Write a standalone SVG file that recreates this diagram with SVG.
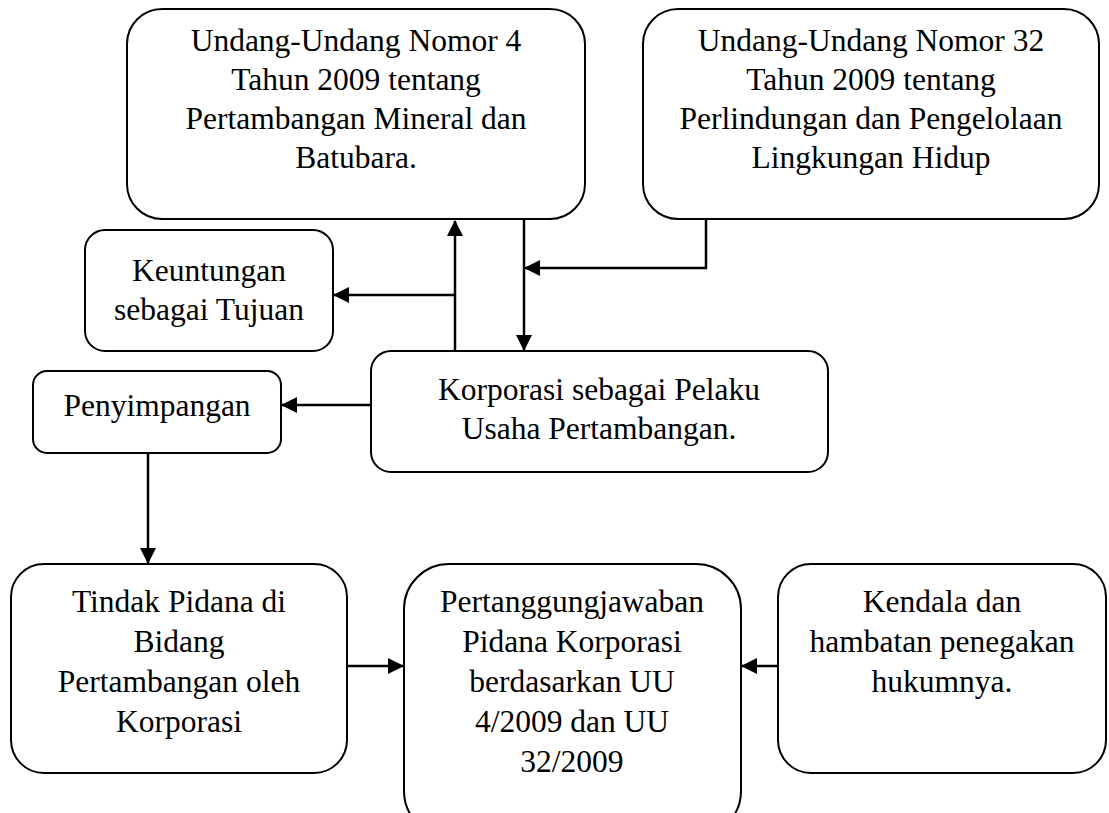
<svg xmlns="http://www.w3.org/2000/svg" width="1109" height="813" viewBox="0 0 1109 813">
<style>
.box{fill:#fff;stroke:#000;stroke-width:2}
.t{font-family:"Liberation Serif","Times New Roman",serif;font-size:31.5px;fill:#000;text-anchor:middle}
.c{fill:none;stroke:#000;stroke-width:2.5}
</style>
<defs>
<marker id="ah" markerUnits="userSpaceOnUse" markerWidth="16" markerHeight="16" viewBox="0 0 16 16" refX="15" refY="8" orient="auto">
<path d="M0,0 L16,8 L0,16 Z" fill="#000"/>
</marker>
</defs>
<rect width="1109" height="813" fill="#fff"/>
<g id="connectors">
<path class="c" d="M455,351 V221" marker-end="url(#ah)"/>
<path class="c" d="M455,295 H334" marker-end="url(#ah)"/>
<path class="c" d="M524,220 V350" marker-end="url(#ah)"/>
<path class="c" d="M706,219 V268 H525" marker-end="url(#ah)"/>
<path class="c" d="M371,405 H282" marker-end="url(#ah)"/>
<path class="c" d="M148,453 V563" marker-end="url(#ah)"/>
<path class="c" d="M347,666 H403" marker-end="url(#ah)"/>
<path class="c" d="M778,666 H742" marker-end="url(#ah)"/>
</g>
<g id="uu4">
<rect class="box" x="127" y="9" width="458" height="210" rx="35"/>
<text class="t" x="356" y="51">Undang-Undang Nomor 4</text>
<text class="t" x="356" y="90">Tahun 2009 tentang</text>
<text class="t" x="356" y="129">Pertambangan Mineral dan</text>
<text class="t" x="356" y="168">Batubara.</text>
</g>
<g id="uu32">
<rect class="box" x="643" y="9" width="456" height="210" rx="35"/>
<text class="t" x="871" y="51">Undang-Undang Nomor 32</text>
<text class="t" x="871" y="90">Tahun 2009 tentang</text>
<text class="t" x="871" y="129">Perlindungan dan Pengelolaan</text>
<text class="t" x="871" y="168">Lingkungan Hidup</text>
</g>
<g id="keuntungan">
<rect class="box" x="85" y="230" width="248" height="121" rx="20"/>
<text class="t" x="209" y="281">Keuntungan</text>
<text class="t" x="209" y="320">sebagai Tujuan</text>
</g>
<g id="korporasi">
<rect class="box" x="371" y="351" width="457" height="121" rx="20"/>
<text class="t" x="599" y="400">Korporasi sebagai Pelaku</text>
<text class="t" x="599" y="439">Usaha Pertambangan.</text>
</g>
<g id="penyimpangan">
<rect class="box" x="33" y="371" width="248" height="82" rx="14"/>
<text class="t" x="157" y="416">Penyimpangan</text>
</g>
<g id="tindak">
<rect class="box" x="11" y="564" width="336" height="209" rx="33"/>
<text class="t" x="179" y="612">Tindak Pidana di</text>
<text class="t" x="179" y="652">Bidang</text>
<text class="t" x="179" y="692">Pertambangan oleh</text>
<text class="t" x="179" y="732">Korporasi</text>
</g>
<g id="pertanggungjawaban">
<rect class="box" x="404" y="564" width="337" height="272" rx="45"/>
<text class="t" x="572" y="612">Pertanggungjawaban</text>
<text class="t" x="572" y="652">Pidana Korporasi</text>
<text class="t" x="572" y="692">berdasarkan UU</text>
<text class="t" x="572" y="732">4/2009 dan UU</text>
<text class="t" x="572" y="772">32/2009</text>
</g>
<g id="kendala">
<rect class="box" x="778" y="564" width="328" height="209" rx="33"/>
<text class="t" x="942" y="612">Kendala dan</text>
<text class="t" x="942" y="652">hambatan penegakan</text>
<text class="t" x="942" y="692">hukumnya.</text>
</g>
</svg>
